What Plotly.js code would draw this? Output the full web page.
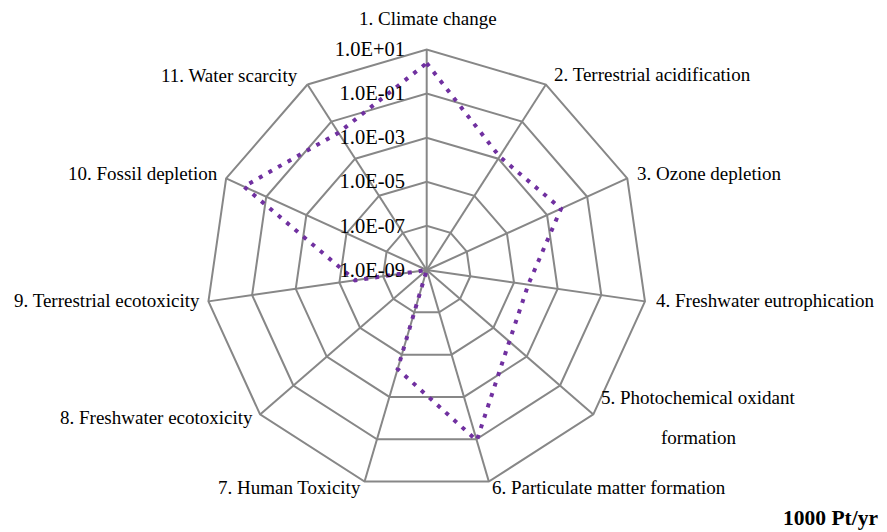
<!DOCTYPE html>
<html><head><meta charset="utf-8">
<script src="https://cdn.plot.ly/plotly-3.0.1.min.js"></script>
<style>html,body{margin:0;padding:0;background:#fff}#chart{width:887px;height:532px}</style>
</head><body><div id="chart"></div>
<script>
// ---- data ----
const categories = [
  "1. Climate change",
  "2. Terrestrial acidification",
  "3. Ozone depletion",
  "4. Freshwater eutrophication",
  "5. Photochemical oxidant formation",
  "6. Particulate matter formation",
  "7. Human Toxicity",
  "8. Freshwater ecotoxicity",
  "9. Terrestrial ecotoxicity",
  "10. Fossil depletion",
  "11. Water scarcity"
];
const values = [2.4, 1.3e-3, 5e-3, 4.5e-5, 9e-5, 0.115, 4.8e-5, 1e-9, 1.9e-6, 1.3, 0.025];
const tickValues = [1e-9, 1e-7, 1e-5, 1e-3, 1e-1, 1e1];
const tickLabels = ["1.0E-09", "1.0E-07", "1.0E-05", "1.0E-03", "1.0E-01", "1.0E+01"];
const unitLabel = "1000 Pt/yr";

// ---- layout helpers ----
const W = 887, H = 532;
const cx = 426.7, cy = 270, R = 220.5;
const px = x => x / W;
const py = y => 1 - y / H;
const gridCol = '#878787';
const font = 'Liberation Serif, Times New Roman, serif';

// pixel placement of the category labels
const labelPlacement = [
  {x: 428, y: 18, a: 'center'},
  {x: 552, y: 75, a: 'left'},
  {x: 635, y: 173, a: 'left'},
  {x: 654, y: 300, a: 'left'},
  {x: 698, y: 397, a: 'center', y2: 437},
  {x: 490, y: 487, a: 'left'},
  {x: 363, y: 487, a: 'right'},
  {x: 255, y: 417, a: 'right'},
  {x: 202, y: 300, a: 'right'},
  {x: 220, y: 173, a: 'right'},
  {x: 300, y: 76, a: 'right'}
];

const annotations = [];
categories.forEach((c, i) => {
  const p = labelPlacement[i];
  if (p.y2 !== undefined) {
    const k = c.lastIndexOf(' ');
    [[c.slice(0, k), p.y], [c.slice(k + 1), p.y2]].forEach(([t, yy]) => {
      annotations.push({text: t, xref: 'paper', yref: 'paper', x: px(p.x), y: py(yy),
        xanchor: p.a, yanchor: 'middle', showarrow: false,
        font: {family: font, size: 19, color: '#000'}});
    });
  } else {
    annotations.push({text: c, xref: 'paper', yref: 'paper', x: px(p.x), y: py(p.y),
      xanchor: p.a, yanchor: 'middle', showarrow: false,
      font: {family: font, size: 19, color: '#000'}});
  }
});
annotations.push({text: '<b>' + unitLabel + '</b>', xref: 'paper', yref: 'paper',
  x: px(880), y: py(518), xanchor: 'right', yanchor: 'middle', showarrow: false,
  font: {family: font, size: 21.5, color: '#000'}});

const trace = {
  type: 'scatterpolar',
  r: values.concat([values[0]]),
  theta: categories.concat([categories[0]]),
  mode: 'lines',
  line: {color: '#7030A0', width: 4, dash: '4px,7px'},
  hoverinfo: 'skip'
};

const layout = {
  width: W, height: H,
  margin: {l: 0, r: 0, t: 0, b: 0},
  paper_bgcolor: '#fff',
  showlegend: false,
  font: {family: font, color: '#000'},
  polar: {
    domain: {x: [px(cx - R), px(cx + R)], y: [py(cy + R), py(cy - R)]},
    bgcolor: '#fff',
    gridshape: 'linear',
    angularaxis: {
      type: 'category', categoryarray: categories,
      rotation: 90, direction: 'clockwise',
      showticklabels: false, ticks: '',
      showline: true, linecolor: gridCol, linewidth: 2,
      showgrid: true, gridcolor: gridCol, gridwidth: 2
    },
    radialaxis: {
      type: 'log', range: [-9, 1],
      tickvals: tickValues, ticktext: tickLabels,
      angle: 90, side: 'counterclockwise', tickangle: 90,
      showline: false, ticks: 'outside', ticklen: 14, tickcolor: 'rgba(0,0,0,0)',
      tickfont: {family: font, size: 20.5, color: '#000'},
      showgrid: true, gridcolor: gridCol, gridwidth: 2
    }
  },
  annotations: annotations
};

Plotly.newPlot('chart', [trace], layout, {staticPlot: true, displayModeBar: false});
</script>
</body></html>
